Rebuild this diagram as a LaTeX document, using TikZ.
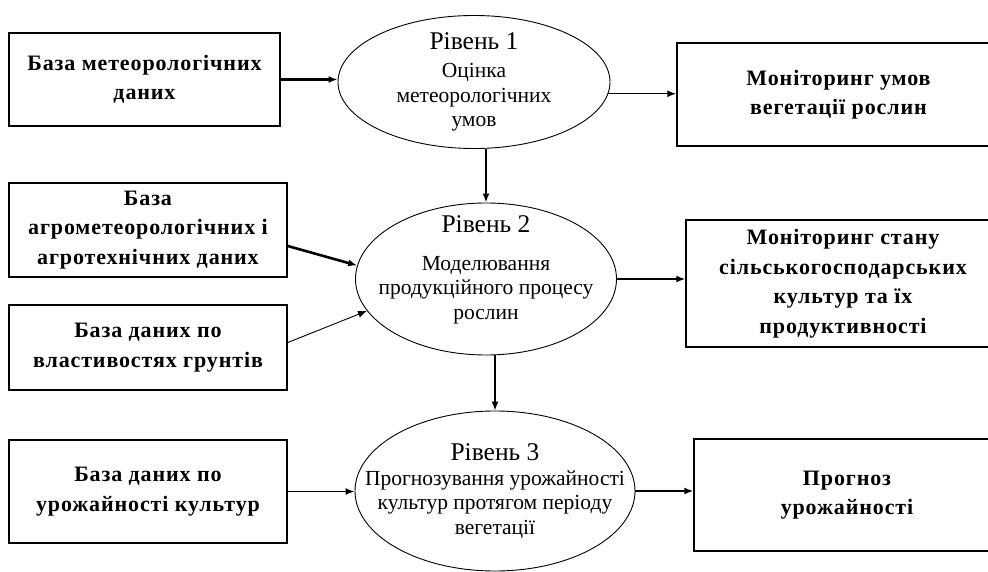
\documentclass[tikz,border=0pt]{standalone}
\usepackage{fontspec}
\setmainfont{Liberation Serif}
\newfontfamily\boxfont[LetterSpace=4]{Liberation Serif}
\usetikzlibrary{arrows.meta, shapes.geometric}

\newcommand{\levelname}[1]{{\fontsize{25.5}{30}\selectfont #1}}

\begin{document}
\begin{tikzpicture}[
        x=1pt, y=-1pt,
        database/.style={draw, line width=1.5pt, align=center, inner sep=0pt, font=\boxfont\fontsize{22}{29.5}\selectfont\bfseries},
        level/.style={draw, ellipse, line width=0.9pt, inner sep=0pt},
        leveltext/.style={align=center, inner sep=0pt, font=\fontsize{21.5}{24.5}\selectfont},
        mainflow/.style={-{Latex[length=9pt,width=7pt]}, line width=2.6pt},
        flow/.style={-{Latex[length=9pt,width=7pt]}, line width=1.4pt},
        weakflow/.style={-{Latex[length=9pt,width=7pt]}, line width=0.9pt}
    ]
    \useasboundingbox (0,0) rectangle (988,572);

    % Level 1
    \node[database, minimum width=271pt, minimum height=93pt] (Meteo) at (144.5,79.5) {База метеорологічних\\даних};
    \node[level, minimum width=272pt, minimum height=133pt,
          label={[leveltext]center:{\levelname{Рівень 1}\\[4pt]Оцінка\\метеорологічних\\умов}}] (Level1) at (474,82) {};
    \node[database, minimum width=323pt, minimum height=103pt] (MonitorCond) at (838.5,94.5) {Моніторинг умов\\вегетації рослин};

    \draw[mainflow] (Meteo.east) -- (Meteo.east -| Level1.west);
    \draw[flow] (Level1.-5) -- (Level1.-5 -| MonitorCond.west);

    % Level 2
    \node[database, minimum width=278pt, minimum height=94pt] (Agro) at (148,230) {База\\агрометеорологічних і\\агротехнічних даних};
    \node[database, minimum width=278pt, minimum height=85pt] (Soil) at (148,347.5) {База даних по\\властивостях грунтів};
    \node[level, minimum width=261pt, minimum height=152pt,
          label={[leveltext, yshift=9pt]center:{\levelname{Рівень 2}\\[13pt]Моделювання\\продукційного процесу\\рослин}}] (Level2) at (486,279) {};
    \node[database, minimum width=314pt, minimum height=127pt] (MonitorCrop) at (843,283.5) {Моніторинг стану\\сільськогосподарських\\культур та їх\\продуктивності};

    \draw[mainflow] (Level1.south -| Level2.north) -- (Level2.north);
    \draw[mainflow] ([yshift=-16pt]Agro.east) -- (Level2.174);
    \draw[weakflow] ([yshift=5pt]Soil.east) -- (Level2.195);
    \draw[flow] (Level2.east) -- (Level2.east -| MonitorCrop.west);

    % Level 3
    \node[database, minimum width=278pt, minimum height=103pt] (Yield) at (148,491.5) {База даних по\\урожайності культур};
    \node[level, minimum width=280pt, minimum height=160pt,
          label={[leveltext]center:{\levelname{Рівень 3}\\Прогнозування урожайності\\культур протягом періоду\\вегетації}}] (Level3) at (495,491) {};
    \node[database, minimum width=306pt, minimum height=112pt] (Forecast) at (847,495) {Прогноз\\урожайності};

    \draw[flow] (Level2.south -| Level3.north) -- (Level3.north);
    \draw[flow] (Yield.east) -- (Yield.east -| Level3.west);
    \draw[flow] (Level3.east) -- (Level3.east -| Forecast.west);

\end{tikzpicture}
\end{document}
